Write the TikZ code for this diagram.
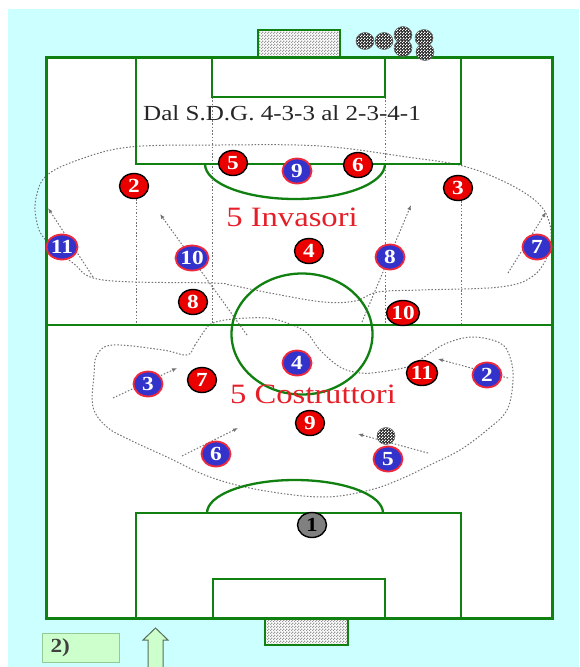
\documentclass[tikz,border=0pt]{standalone}
\usepackage{fontspec}
\setmainfont{Liberation Serif}
\usetikzlibrary{shapes.geometric,arrows.meta,patterns}
\pgfdeclarepatternformonly{finecheck}{\pgfpointorigin}{\pgfqpoint{3pt}{3pt}}{\pgfqpoint{3pt}{3pt}}{%
  \pgfpathrectangle{\pgfpointorigin}{\pgfqpoint{1.55pt}{1.55pt}}%
  \pgfpathrectangle{\pgfqpoint{1.5pt}{1.5pt}}{\pgfqpoint{1.55pt}{1.55pt}}%
  \pgfusepath{fill}}
\definecolor{bgcyan}{RGB}{204,255,255}
\definecolor{fgreen}{RGB}{16,128,16}
\definecolor{pred}{RGB}{235,0,0}
\definecolor{pblue}{RGB}{51,51,204}
\definecolor{bred}{RGB}{240,40,60}
\definecolor{txtred}{RGB}{230,30,40}
\definecolor{dotgray}{RGB}{115,115,115}
\definecolor{lgreen}{RGB}{204,255,204}
\definecolor{boxgreen}{RGB}{150,200,150}
\definecolor{arrgray}{RGB}{90,110,90}
\newcommand{\hs}[1]{\scalebox{1.165}[1]{#1}}
\tikzset{
  player/.style={ellipse, minimum width=29pt, minimum height=25pt, inner sep=0pt,
    font=\fontsize{20}{20}\selectfont\bfseries},
  redp/.style={player, fill=pred, draw=black, line width=1.4pt, text=white},
  bluep/.style={player, fill=pblue, draw=bred, line width=1.8pt, text=white},
  keeper/.style={player, fill=gray, draw=black, line width=1.4pt, text=black},
  ball/.style={ellipse, minimum width=18pt, minimum height=17pt, inner sep=0pt,
    preaction={fill=black!85}, pattern=finecheck, pattern color=white, draw=black!60, line width=0.5pt},
  zone/.style={draw=dotgray, line width=1pt, dash pattern=on 1.5pt off 1.8pt},
  run/.style={zone, -{Latex[length=5pt,width=4pt]}},
  pitch/.style={draw=fgreen, line width=2.3pt},
}
\begin{document}
\begin{tikzpicture}[x=1pt,y=-1pt]
\useasboundingbox (0,0) rectangle (579,667);
\fill[white] (0,0) rectangle (579,667);
\fill[bgcyan] (8,9) rectangle (579,667);
\fill[white] (46,57) rectangle (552,618);

% goals
\fill[white] (258,30) rectangle (340,57);
\fill[pattern=finecheck, pattern color=gray!80] (258,30) rectangle (340,57);
\draw[pitch] (258,57) -- (258,30) -- (340,30) -- (340,57);
\fill[white] (265,618) rectangle (348,645);
\fill[pattern=finecheck, pattern color=gray!80] (265,618) rectangle (348,645);
\draw[pitch] (265,618) -- (265,645) -- (348,645) -- (348,618);

% dotted guide lines
\draw[zone] (136,199) -- (136,325);
\draw[zone] (212,97) -- (212,325);
\draw[zone] (385,97) -- (385,325);
\draw[zone] (461,201) -- (461,325);

% zones
\draw[zone] plot[smooth cycle, tension=0.6] coordinates {
 (36,198) (46,176) (78,160) (130,147) (220,145) (320,146) (407,157) (463,166)
 (507,183) (538,203) (550,225) (549,252) (533,276) (500,287) (420,290) (378,292)
 (355,301) (323,302) (270,293) (230,285) (212,283) (103,280) (73,263) (44,238) (36,218)};
\draw[zone] plot[smooth cycle, tension=0.6] coordinates {
 (205,330) (195,345) (187,355) (163,350) (113,345) (97,355) (94,375) (93,407)
 (107,427) (130,440) (167,457) (210,477) (260,490) (323,497) (370,490) (403,478)
 (430,465) (460,450) (487,430) (507,410) (513,380) (510,357) (500,343) (473,337)
 (447,343) (427,355) (410,366) (380,372) (360,373) (340,367) (320,350) (307,333)
 (290,324) (267,318) (233,319) (213,323)};

% pitch lines
\draw[pitch] (46,325) -- (552,325);
\draw[pitch] (302,334) ellipse [x radius=70.5, y radius=60.5];
\draw[pitch] (136,57) -- (136,164) -- (461,164) -- (461,57);
\draw[pitch] (212,57) -- (212,97) -- (385,97) -- (385,57);
\draw[pitch] (205,164) arc[start angle=180, end angle=0, x radius=90, y radius=35];
\draw[pitch] (136,618) -- (136,513) -- (461,513) -- (461,618);
\draw[pitch] (213,618) -- (213,579) -- (385,579) -- (385,618);
\draw[pitch] (207,513) arc[start angle=180, end angle=360, x radius=88, y radius=33];
\draw[draw=fgreen, line width=3pt] (46,57) rectangle (552,618);

% arrows (runs)
\coordinate (a11s) at (93,277);  \coordinate (a11e) at (48,208);
\coordinate (a10s) at (247,335); \coordinate (a10e) at (160,214);
\coordinate (a8s) at (362,322);  \coordinate (a8e) at (411,205);
\coordinate (a7s) at (508,273);  \coordinate (a7e) at (546,212);
\coordinate (a3s) at (113,398);  \coordinate (a3e) at (177,368);
\coordinate (a6s) at (182,456);  \coordinate (a6e) at (238,428);
\coordinate (a2s) at (508,378);  \coordinate (a2e) at (438,359);
\coordinate (a5s) at (428,453);  \coordinate (a5e) at (358,434);
\foreach \n in {11,10,8,7,3,6,2,5} \draw[run] (a\n s) -- (a\n e);

% texts
\node[font=\fontsize{21.5}{21.5}\selectfont, text=black!85, anchor=base] (title) at (282,120) {\hs{Dal S.D.G. 4-3-3 al 2-3-4-1}};
\node[font=\fontsize{28}{28}\selectfont, text=txtred, anchor=base] (inv) at (292,226) {\hs{5 Invasori}};
\node[font=\fontsize{28}{28}\selectfont, text=txtred, anchor=base] (cos) at (313,403) {\hs{5 Costruttori}};

% balls
\node[ball] (k1) at (365,41) {};
\node[ball] (k2) at (384,41) {};
\node[ball] (k3) at (403,35) {};
\node[ball] (k4) at (403,48) {};
\node[ball] (k5) at (424,38) {};
\node[ball] (k6) at (425,52) {};
\node[ball] (kb) at (386,436) {};

% red players
\node[redp] (r5) at (233,163) {\hs{5}};
\node[redp] (r6) at (358,165) {\hs{6}};
\node[redp] (r2) at (134,186) {\hs{2}};
\node[redp] (r3) at (458,188) {\hs{3}};
\node[redp] (r4) at (309,251) {\hs{4}};
\node[redp] (r8) at (193,302) {\hs{8}};
\node[redp] (r10) at (403,313) {\hs{10}};
\node[redp] (r7) at (202,380) {\hs{7}};
\node[redp] (r11) at (422,373) {\hs{11}};
\node[redp] (r9) at (310,423) {\hs{9}};
% blue players
\node[bluep] (b9) at (297,171) {\hs{9}};
\node[bluep] (b11) at (62,247) {\hs{11}};
\node[bluep] (b10) at (192,258) {\hs{10}};
\node[bluep] (b8) at (390,257) {\hs{8}};
\node[bluep] (b7) at (537,247) {\hs{7}};
\node[bluep] (b4) at (297,363) {\hs{4}};
\node[bluep] (b3) at (148,384) {\hs{3}};
\node[bluep] (b2) at (487,375) {\hs{2}};
\node[bluep] (b6) at (216,454) {\hs{6}};
\node[bluep] (b5) at (388,459) {\hs{5}};
\node[keeper] (g1) at (312,525) {\hs{1}};

% bottom label and arrow
\node[draw=boxgreen, fill=lgreen, line width=1pt, minimum width=77pt, minimum height=29pt, anchor=north west] (lbl) at (42,633) {};
\node[font=\fontsize{20}{20}\selectfont\bfseries, text=black!75, anchor=west] (lbltxt) at (47,648) {\hs{2)}};
\draw[fill=lgreen, draw=arrgray, line width=1pt] (148,667) -- (148,640) -- (143,640) -- (155.5,628) -- (168,640) -- (163,640) -- (163,667);
\end{tikzpicture}
\end{document}
